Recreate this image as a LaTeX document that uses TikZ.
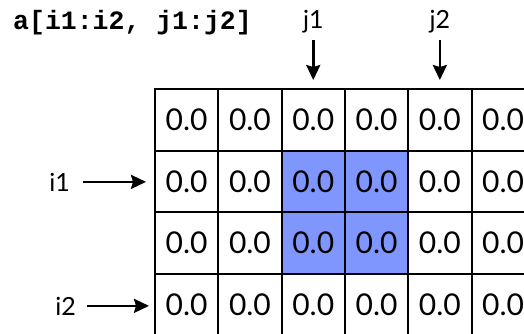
\documentclass[tikz,border=0pt]{standalone}
\usepackage{fontspec}
\setsansfont{Lato}
\newfontfamily\codefont{Liberation Mono}
\usetikzlibrary{arrows.meta}
\usetikzlibrary{positioning}
\tikzset{cell/.style = {draw, line width = 2pt, minimum width = 63.3pt, minimum height = 61.5pt, inner sep = 0, font = \sffamily\fontsize{30}{30}\selectfont}}
\tikzset{idx/.style = {inner sep = 2pt, font = \sffamily\fontsize{25}{25}\selectfont}}
\tikzset{ptr/.style = {-{Stealth[length = 15pt, width = 14pt, inset = 2pt]}, line width = 2.5pt}}
\definecolor{sblue}{RGB}{128, 150, 255}

\begin{document}
\begin{tikzpicture}[x = 1pt, y = -1pt]
        \clip (0, 0) rectangle (524, 333);
        \foreach \r in {1, ..., 4}
          \foreach \c in {1, ..., 6} {
            \pgfmathtruncatemacro\hit{(\r > 1) && (\r < 4) && (\c > 2) && (\c < 5)}
            \ifnum\hit = 1 \def\cellfill{sblue}\else\def\cellfill{white}\fi
            \node [cell, fill = \cellfill] (c-\r-\c) at ({155 + 63.3*(\c - 0.5)}, {89 + 61.5*(\r - 0.5)}) {0.0};
          }
        \node [anchor = base west, inner sep = 0, font = \codefont\bfseries\fontsize{26.5}{26.5}\selectfont] (expr) at (13, 29.5) {a[i1:i2, j1:j2]};
        \node [idx, anchor = base] (j1) at (313.25, 28.5) {j1};
        \node [idx, anchor = base] (j2) at (439.85, 28.5) {j2};
        \node [idx, anchor = base east] (i1) at (72, 191) {i1};
        \node [idx, anchor = base east] (i2) at (78, 315) {i2};
        \draw [ptr, shorten <= 5pt, shorten >= 8pt] (j1.south) -- (c-1-3.north);
        \draw [ptr, shorten <= 5pt, shorten >= 8pt] (j2.south) -- (c-1-5.north);
        \draw [ptr, shorten <= 11pt, shorten >= 8pt] (i1.east) -- (i1.east -| c-2-1.west);
        \draw [ptr, shorten <= 9pt, shorten >= 5pt] (i2.east) -- (i2.east -| c-4-1.west);
      \end{tikzpicture}
\end{document}
